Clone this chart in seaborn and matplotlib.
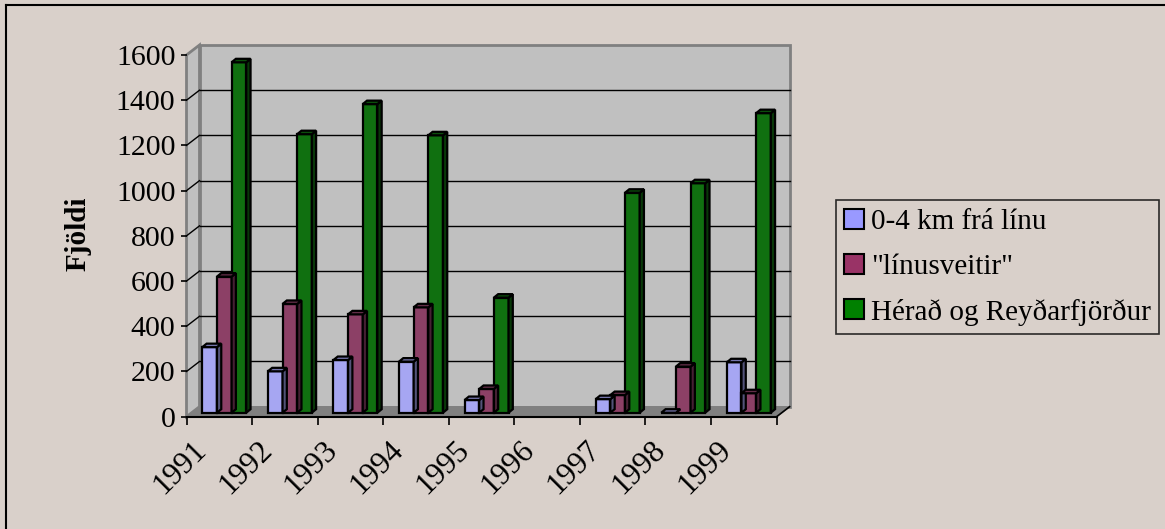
import numpy as np
import pandas as pd
import matplotlib
matplotlib.use("Agg")
import matplotlib.pyplot as plt
import seaborn as sns
from matplotlib.patches import Rectangle, Polygon, Patch
from matplotlib.lines import Line2D
from matplotlib.transforms import ScaledTranslation
import matplotlib.colors as mcolors

# ======================================
# Data
# ======================================

years = ["1991", "1992", "1993", "1994", "1995", "1996", "1997", "1998", "1999"]
series = ["0-4 km frá línu", "\"línusveitir\"", "Hérað og Reyðarfjörður"]

near_line = [290, 183, 233, 226, 56, np.nan, 60, 0, 223]
line_rural = [602, 481, 435, 466, 105, np.nan, 78, 204, 86]
herad = [1550, 1232, 1365, 1227, 509, np.nan, 973, 1015, 1325]

y_ticks = [0, 200, 400, 600, 800, 1000, 1200, 1400, 1600]
colors = ["#9999FF", "#993366", "#008000"]

# ======================================
# Layout (pixels)
# ======================================

FIG_W, FIG_H = 1165, 529
BG = "#D9D0CA"
AX_L, AX_R = 186.5, 776.6
AX_T, AX_B = 55.0, 416.7
WALL_DX, WALL_DY = 13, 10
BAR_DX, BAR_DY = 5, 4
DEPTH_DX, DEPTH_DY = 4.3, 3.5

plt.rcParams["font.family"] = ["Liberation Serif", "DejaVu Serif"]

df = pd.DataFrame({
    "year": years * 3,
    "count": near_line + line_rural + herad,
    "series": [series[0]] * 9 + [series[1]] * 9 + [series[2]] * 9,
})

fig = plt.figure(figsize=(FIG_W / 100, FIG_H / 100), dpi=100, facecolor=BG)

ax_w_px = AX_R - AX_L
ax_h_px = AX_B - AX_T
ax = fig.add_axes([
    AX_L / FIG_W,
    (FIG_H - AX_B) / FIG_H,
    ax_w_px / FIG_W,
    ax_h_px / FIG_H,
])
ax.set_facecolor("none")
ax.set_xlim(-0.5, 8.5)
ax.set_ylim(0, 1600)

# pixel -> data / axes fraction
sx = 9 / ax_w_px
sy = 1600 / ax_h_px
fx = 1 / ax_w_px
fy = 1 / ax_h_px

# ======================================
# Walls and floor
# ======================================

wall_c = "#C0C0C0"
edge_c = "#808080"

ax.add_patch(Rectangle(
    (WALL_DX * fx, WALL_DY * fy), 1, 1,
    transform=ax.transAxes, facecolor=wall_c,
    edgecolor=edge_c, linewidth=2, zorder=0, clip_on=False
))
ax.add_patch(Polygon(
    [(0, 0), (1, 0), (1 + WALL_DX * fx, WALL_DY * fy), (WALL_DX * fx, WALL_DY * fy)],
    transform=ax.transAxes, facecolor=edge_c, edgecolor=edge_c,
    linewidth=1, zorder=0.5, clip_on=False
))
ax.add_patch(Polygon(
    [(0, 0), (0, 1), (WALL_DX * fx, 1 + WALL_DY * fy), (WALL_DX * fx, WALL_DY * fy)],
    transform=ax.transAxes, facecolor=wall_c, edgecolor=edge_c,
    linewidth=2, zorder=0.6, clip_on=False
))

for v in y_ticks[1:-1]:
    ax.plot(
        [-0.5 + WALL_DX * sx, 8.5 + WALL_DX * sx],
        [v + WALL_DY * sy, v + WALL_DY * sy],
        color="black", linewidth=1, zorder=1, clip_on=False
    )
    ax.plot(
        [-0.5, -0.5 + WALL_DX * sx],
        [v, v + WALL_DY * sy],
        color="black", linewidth=1, zorder=1, clip_on=False
    )

ax.plot(
    [8.5, 8.5 + WALL_DX * sx], [0, WALL_DY * sy],
    color="black", linewidth=1.2, zorder=1, clip_on=False
)

# ======================================
# Bars
# ======================================

sns.barplot(
    data=df, x="year", y="count", hue="series",
    order=years, hue_order=series, palette=colors,
    width=0.67, edgecolor="black", linewidth=1.6,
    legend=False, ax=ax, zorder=2
)

bars = [p for p in ax.patches if isinstance(p, Rectangle) and p.get_zorder() == 2]

for p in bars:
    x0 = p.get_x() + BAR_DX * sx
    y0 = p.get_y() + BAR_DY * sy
    w = p.get_width()
    h = p.get_height()
    if not np.isfinite(h):
        continue
    p.set_x(x0)
    p.set_y(y0)
    p.set_clip_on(False)
    base = np.array(mcolors.to_rgb(p.get_facecolor()))
    ddx = DEPTH_DX * sx
    ddy = DEPTH_DY * sy
    ax.add_patch(Polygon(
        [(x0 + w, y0), (x0 + w, y0 + h), (x0 + w + ddx, y0 + h + ddy), (x0 + w + ddx, y0 + ddy)],
        facecolor=base * 0.5, edgecolor="black", linewidth=1.6,
        zorder=2, clip_on=False
    ))
    ax.add_patch(Polygon(
        [(x0, y0 + h), (x0 + w, y0 + h), (x0 + w + ddx, y0 + h + ddy), (x0 + ddx, y0 + h + ddy)],
        facecolor=base * 0.7, edgecolor="black", linewidth=1.6,
        zorder=2, clip_on=False
    ))

# ======================================
# Axes and labels
# ======================================

for side in ["top", "right", "left"]:
    ax.spines[side].set_visible(False)
ax.spines["bottom"].set_color("black")
ax.spines["bottom"].set_linewidth(1.5)
ax.spines["bottom"].set_zorder(3)

ax.set_xticks(np.arange(-0.5, 9, 1))
ax.set_xticklabels([])
ax.set_xlabel("")
ax.tick_params(axis="x", length=5.5, width=1.2, color="black")

ax.set_yticks(y_ticks)
ax.set_yticklabels([str(v) for v in y_ticks], fontsize=21.5)
ax.set_ylabel("")
ax.tick_params(axis="y", length=4, width=1.2, color="black", pad=4)

label_off = ScaledTranslation(-17 / 100, -29 / 100, fig.dpi_scale_trans)
for i, yr in enumerate(years):
    ax.text(
        i, 0, yr, transform=ax.transData + label_off,
        rotation=45, rotation_mode="anchor",
        ha="right", va="center", fontsize=22.5
    )

fig.text(
    78 / FIG_W, 1 - 234 / FIG_H, "Fjöldi",
    rotation=90, ha="center", va="center",
    fontsize=21, fontweight="bold"
)

handles = [
    Patch(facecolor=c, edgecolor="black", linewidth=1.5, label=s)
    for c, s in zip(colors, series)
]
leg = fig.legend(
    handles=handles, loc="upper left",
    bbox_to_anchor=(835.7 / FIG_W, 1 - 200 / FIG_H),
    fontsize=21, frameon=True, fancybox=False, shadow=False,
    handlelength=0.68, handleheight=0.68, handletextpad=0.22,
    labelspacing=0.64, borderpad=0.3, borderaxespad=0
)
leg.get_frame().set_facecolor(BG)
leg.get_frame().set_edgecolor("black")
leg.get_frame().set_linewidth(1.2)

# outer frame
fig.add_artist(Line2D([6 / FIG_W, 6 / FIG_W], [0, 1 - 5 / FIG_H], color="black", linewidth=1.5))
fig.add_artist(Line2D([6 / FIG_W, 1], [1 - 5 / FIG_H, 1 - 5 / FIG_H], color="black", linewidth=1.5))

fig.savefig("out.png", dpi=100, facecolor=BG)
plt.close(fig)
